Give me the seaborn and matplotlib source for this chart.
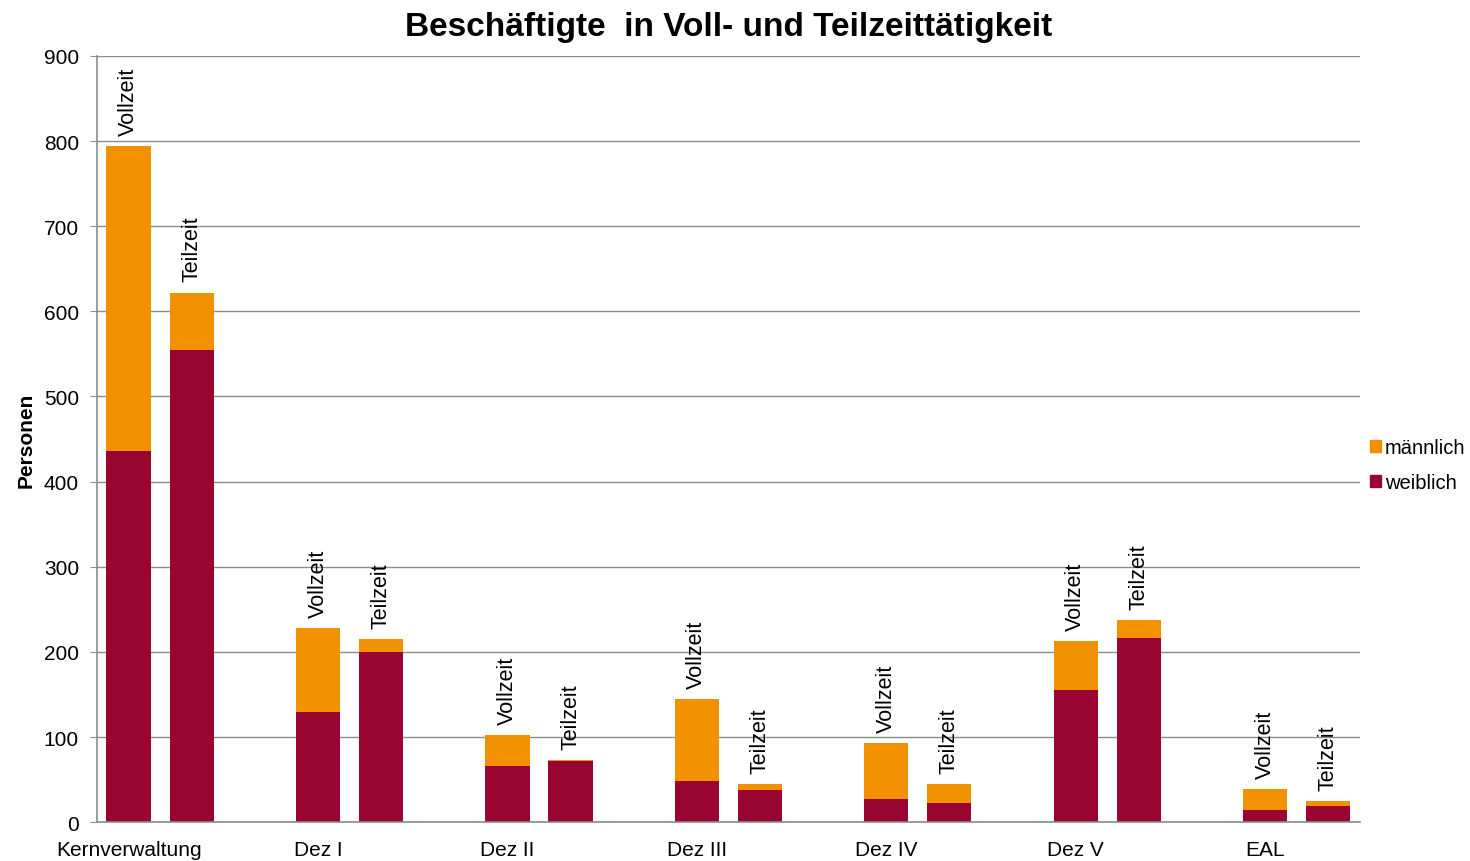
import numpy as np
import pandas as pd
import matplotlib.pyplot as plt
import seaborn as sns
from matplotlib.patches import Patch

# data
groups = ['Kernverwaltung', 'Dez I', 'Dez II', 'Dez III', 'Dez IV', 'Dez V', 'EAL']
kinds = ['Vollzeit', 'Teilzeit']
weiblich_voll = [436, 129, 66, 48, 27, 155, 14]
maennlich_voll = [358, 99, 36, 97, 66, 58, 25]
weiblich_teil = [555, 200, 72, 38, 22, 216, 19]
maennlich_teil = [67, 15, 1, 7, 23, 21, 6]

ORANGE = '#F29100'
CRIMSON = '#990530'

sns.set_style('white')
plt.rcParams['font.family'] = ['Liberation Sans', 'DejaVu Sans']
plt.rcParams['text.color'] = 'black'
plt.rcParams['axes.labelcolor'] = 'black'
plt.rcParams['xtick.color'] = 'black'
plt.rcParams['ytick.color'] = 'black'

rows = []
for i, g in enumerate(groups):
    for j, (kind, w, m) in enumerate(zip(kinds, [weiblich_voll[i], weiblich_teil[i]],
                                         [maennlich_voll[i], maennlich_teil[i]])):
        rows.append({'group': g, 'kind': kind, 'slot': i * 3 + j,
                     'weiblich': w, 'maennlich': m, 'total': w + m})
df = pd.DataFrame(rows)

fig = plt.figure(figsize=(14.7, 8.62), dpi=100)
ax = fig.add_axes([0.066, 0.045, 0.859, 0.889])

# stacked: total in orange, weiblich drawn over it
sns.barplot(data=df, x='slot', y='total', native_scale=True, width=0.7,
            color=ORANGE, saturation=1, linewidth=0, ax=ax)
sns.barplot(data=df, x='slot', y='weiblich', native_scale=True, width=0.7,
            color=CRIMSON, saturation=1, linewidth=0, ax=ax)

for _, r in df.iterrows():
    ax.annotate(r['kind'], (r['slot'], r['total']), xytext=(0, 8),
                textcoords='offset points', rotation=90, ha='center', va='bottom',
                fontsize=15.5)

ax.set_xlim(-0.5, 19.5)
ax.set_ylim(0, 900)
ax.set_yticks(range(0, 901, 100))
ax.yaxis.grid(True, color='#8c8c8c', linewidth=1)
ax.set_axisbelow(True)
ax.set_xticks([i * 3 for i in range(len(groups))])
ax.set_xticklabels(groups, fontsize=15)
ax.tick_params(axis='y', labelsize=15, length=5, color='#8c8c8c', left=True, pad=8)
ax.tick_params(axis='x', length=0, pad=13)
for s in ['top', 'right']:
    ax.spines[s].set_visible(False)
for s in ['left', 'bottom']:
    ax.spines[s].set_color('#8c8c8c')
    ax.spines[s].set_linewidth(1.2)

ax.set_xlabel('')
ax.set_ylabel('Personen', fontsize=15, fontweight='bold', labelpad=6)
ax.set_title('Beschäftigte  in Voll- und Teilzeittätigkeit', fontsize=24,
             fontweight='bold', pad=15)

handles = [Patch(color=ORANGE, label='männlich'), Patch(color=CRIMSON, label='weiblich')]
ax.legend(handles=handles, loc='center left', bbox_to_anchor=(1.0, 0.466),
          frameon=False, fontsize=14.5, handlelength=0.55, handleheight=0.55,
          handletextpad=0.2, labelspacing=0.8, borderaxespad=0.1)

plt.savefig('out.png', dpi=100)
